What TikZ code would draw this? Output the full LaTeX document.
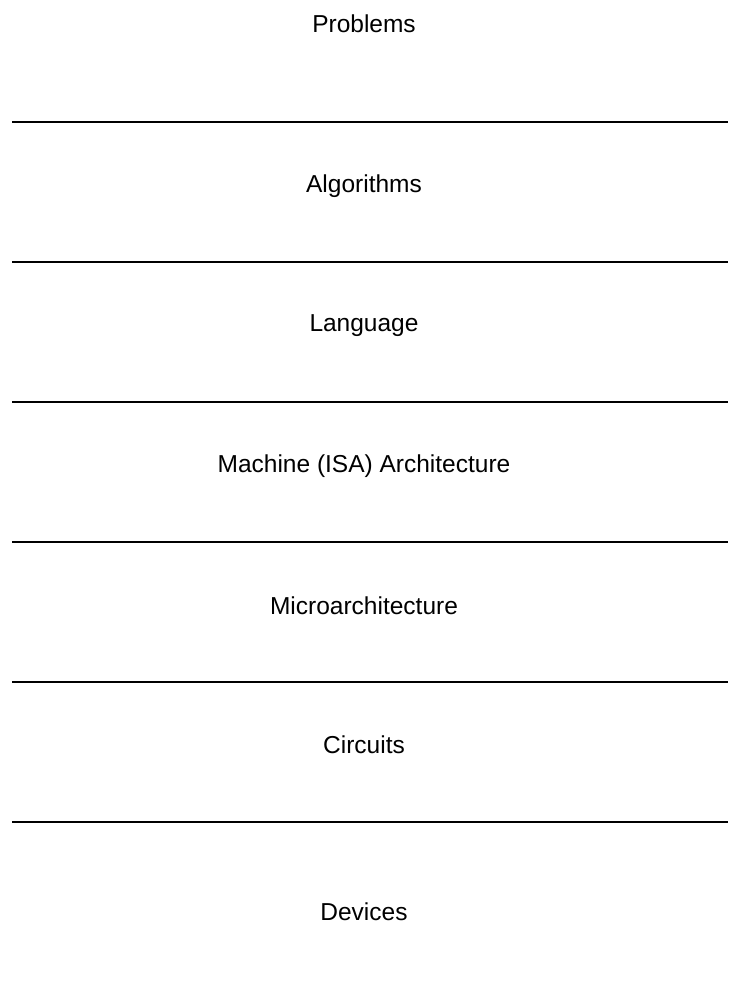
\documentclass[tikz,border=0pt]{standalone}
\usepackage{fontspec}
\setmainfont{Liberation Sans}

\tikzset{
  layer/.style={font=\fontsize{24.5}{29}\selectfont},
  rule/.style={black,line width=2.8pt}
}

\begin{document}
\begin{tikzpicture}[x=1pt,y=-1pt]
    \useasboundingbox (0,0) rectangle (728,1003);
    \node[layer] (problems) at (364,24) {Problems};
    \node[layer] (algorithms) at (364,186) {Algorithms};
    \node[layer] (language) at (364,326) {Language};
    \node[layer] (isa) at (364,466) {Machine (ISA) Architecture};
    \node[layer] (microarch) at (364,606) {Microarchitecture};
    \node[layer] (circuits) at (364,745) {Circuits};
    \node[layer] (devices) at (364,912) {Devices};
    \draw[rule] (12,122) -- (728,122);
    \draw[rule] (12,262) -- (728,262);
    \draw[rule] (12,402) -- (728,402);
    \draw[rule] (12,542) -- (728,542);
    \draw[rule] (12,682) -- (728,682);
    \draw[rule] (12,822) -- (728,822);
  \end{tikzpicture}
\end{document}
